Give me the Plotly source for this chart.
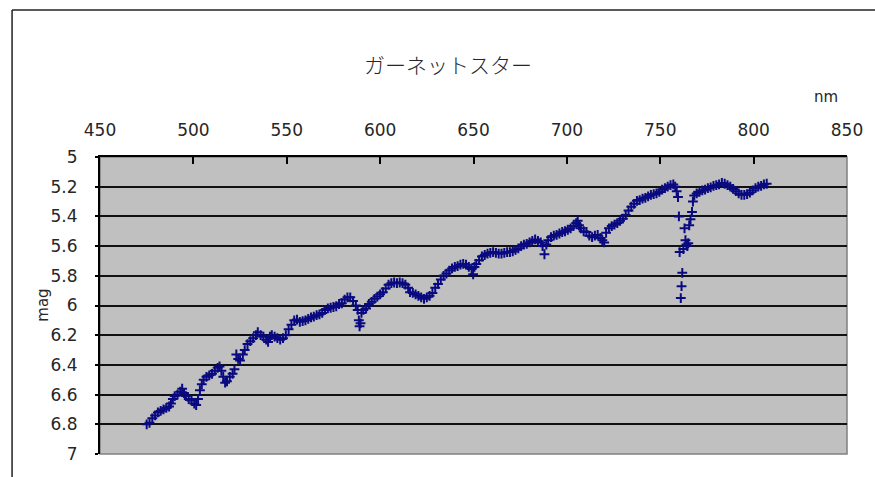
import plotly.graph_objects as go

# ---- data ----
wavelength_nm = [
    475.0, 476.5, 478.0, 479.5, 481.0, 482.5, 484.0, 485.5, 487.0, 488.0,
    489.0, 490.0, 491.5, 493.0, 494.0, 495.0, 496.0, 497.5, 499.0, 500.5,
    501.5, 502.5, 503.5, 504.5, 505.5, 507.0, 508.5, 510.0, 511.5, 513.0,
    514.0, 515.0, 516.0, 517.0, 518.0, 519.5, 521.0, 522.0, 523.0, 524.0,
    525.0, 526.5, 527.5, 529.0, 530.5, 532.0, 533.5, 534.5, 536.0, 537.5,
    539.0, 540.0, 541.0, 542.0, 543.5, 545.0, 546.5, 548.0, 549.5, 551.0,
    552.5, 554.0, 555.5, 557.0, 558.5, 560.0, 561.5, 563.0, 564.5, 566.0,
    567.5, 569.0, 570.5, 572.0, 573.5, 575.0, 576.5, 578.0, 579.5, 581.0,
    582.5, 584.0, 585.5, 587.0, 588.0, 588.6, 589.0, 589.5, 590.0, 591.0,
    592.5, 594.0, 595.5, 597.0, 598.5, 600.0, 601.5, 603.0, 604.5, 606.0,
    607.5, 609.0, 610.5, 612.0, 613.5, 615.0, 616.0, 617.5, 619.0, 620.5,
    622.0, 623.5, 625.0, 626.5, 628.0, 629.5, 631.0, 632.5, 634.0, 635.5,
    637.0, 638.5, 640.0, 641.5, 643.0, 644.5, 646.0, 647.5, 649.0, 649.8,
    650.5, 651.5, 653.0, 654.5, 656.0, 657.5, 659.0, 660.5, 662.0, 663.5,
    665.0, 666.5, 668.0, 669.5, 671.0, 672.5, 674.0, 675.5, 677.0, 678.5,
    680.0, 681.5, 683.0, 684.5, 686.0, 687.0, 688.0, 689.0, 690.0, 691.5,
    693.0, 694.5, 696.0, 697.5, 699.0, 700.5, 702.0, 703.5, 705.0, 705.8,
    706.5, 707.5, 709.0, 710.5, 712.0, 713.5, 715.0, 716.5, 718.0, 719.0,
    720.0, 721.0, 722.5, 724.0, 725.5, 727.0, 728.5, 730.0, 731.5, 733.0,
    734.5, 736.0, 737.5, 739.0, 740.5, 742.0, 743.5, 745.0, 746.5, 748.0,
    749.5, 751.0, 752.5, 754.0, 755.5, 757.0, 758.0, 758.8, 759.5, 760.0,
    760.4, 761.0, 761.4, 761.8, 762.4, 763.0, 763.5, 764.0, 764.5, 765.0,
    765.5, 766.2, 767.0, 767.5, 768.2, 769.5, 771.0, 772.5, 774.0, 775.5,
    777.0, 778.5, 780.0, 781.5, 783.0, 784.5, 786.0, 787.5, 789.0, 790.5,
    792.0, 793.5, 795.0, 796.5, 798.0, 799.5, 801.0, 802.5, 804.0, 805.5,
    807.0,
]
magnitude = [
    6.80, 6.79, 6.76, 6.74, 6.72, 6.71, 6.70, 6.69, 6.68, 6.66,
    6.63, 6.61, 6.60, 6.58, 6.56, 6.59, 6.61, 6.63, 6.64, 6.66,
    6.67, 6.63, 6.57, 6.53, 6.50, 6.48, 6.47, 6.46, 6.44, 6.42,
    6.41, 6.44, 6.48, 6.52, 6.51, 6.48, 6.46, 6.43, 6.33, 6.36,
    6.37, 6.33, 6.30, 6.26, 6.24, 6.22, 6.20, 6.18, 6.20, 6.21,
    6.23, 6.245, 6.21, 6.20, 6.21, 6.22, 6.23, 6.22, 6.20, 6.16,
    6.13, 6.10, 6.095, 6.11, 6.105, 6.10, 6.09, 6.08, 6.075, 6.065,
    6.06, 6.05, 6.03, 6.02, 6.015, 6.01, 6.005, 5.99, 5.985, 5.96,
    5.945, 5.945, 5.97, 6.00, 6.03, 6.10, 6.14, 6.12, 6.05, 6.03,
    6.02, 5.99, 5.975, 5.955, 5.94, 5.925, 5.91, 5.885, 5.86, 5.85,
    5.845, 5.85, 5.845, 5.85, 5.86, 5.88, 5.91, 5.915, 5.925, 5.935,
    5.945, 5.955, 5.945, 5.935, 5.915, 5.88, 5.855, 5.825, 5.80, 5.785,
    5.765, 5.75, 5.74, 5.735, 5.725, 5.72, 5.725, 5.74, 5.755, 5.79,
    5.74, 5.72, 5.695, 5.67, 5.66, 5.65, 5.645, 5.64, 5.645, 5.65,
    5.65, 5.645, 5.64, 5.64, 5.635, 5.625, 5.615, 5.60, 5.59, 5.585,
    5.575, 5.565, 5.555, 5.565, 5.575, 5.60, 5.655, 5.59, 5.56, 5.54,
    5.53, 5.525, 5.515, 5.505, 5.50, 5.49, 5.48, 5.465, 5.445, 5.43,
    5.46, 5.48, 5.50, 5.505, 5.53, 5.54, 5.53, 5.525, 5.545, 5.56,
    5.575, 5.51, 5.48, 5.465, 5.455, 5.445, 5.43, 5.415, 5.39, 5.36,
    5.335, 5.315, 5.295, 5.29, 5.28, 5.275, 5.265, 5.255, 5.25, 5.245,
    5.235, 5.22, 5.21, 5.20, 5.19, 5.185, 5.20, 5.23, 5.27, 5.40,
    5.64, 5.95, 5.87, 5.78, 5.62, 5.48, 5.56, 5.59, 5.60, 5.58,
    5.46, 5.42, 5.37, 5.30, 5.26, 5.245, 5.235, 5.225, 5.22, 5.21,
    5.205, 5.195, 5.19, 5.185, 5.175, 5.18, 5.19, 5.20, 5.215, 5.23,
    5.245, 5.255, 5.255, 5.25, 5.24, 5.225, 5.21, 5.20, 5.195, 5.185,
    5.18,
]

x_ticks = [450, 500, 550, 600, 650, 700, 750, 800, 850]
y_ticks = [5, 5.2, 5.4, 5.6, 5.8, 6, 6.2, 6.4, 6.6, 6.8, 7]
y_tick_text = ["5", "5.2", "5.4", "5.6", "5.8", "6", "6.2", "6.4", "6.6", "6.8", "7"]

title_text = "ガーネットスター"
x_unit = "nm"
y_title = "mag"

# ---- layout constants ----
W, H = 875, 477
L, R, T, B = 100, 19, 157, 23
pw, ph = W - L - R, H - T - B

def px_to_paper_x(px):
    return (px - L) / pw

def py_to_paper_y(py):
    return (H - B - py) / ph

txt_color = "#262626"
num_font = dict(family="DejaVu Sans, Liberation Sans, sans-serif", size=17, color=txt_color)

fig = go.Figure()
fig.add_trace(go.Scatter(
    x=wavelength_nm, y=magnitude, mode="markers",
    marker=dict(symbol="cross-thin", size=7, color="#000080",
                line=dict(color="#0a0a80", width=2)),
    showlegend=False, hoverinfo="x+y",
))

fig.update_layout(
    width=W, height=H,
    margin=dict(l=L, r=R, t=T, b=B),
    paper_bgcolor="white",
    plot_bgcolor="#C0C0C0",
    showlegend=False,
    xaxis=dict(
        range=[450, 850], side="top",
        tickmode="array", tickvals=x_ticks, ticktext=[str(v) for v in x_ticks],
        showgrid=False, zeroline=False,
        showline=True, linecolor="black", linewidth=2,
        ticks="inside", ticklen=7, tickwidth=1.5, tickcolor="black",
        tickfont=num_font, ticklabelstandoff=12,
    ),
    yaxis=dict(
        range=[7, 5],
        tickmode="array", tickvals=y_ticks, ticktext=y_tick_text,
        showgrid=True, gridcolor="#111111", gridwidth=1.5,
        zeroline=False,
        showline=True, linecolor="black", linewidth=2,
        ticks="outside", ticklen=3, tickwidth=1.5, tickcolor="black",
        tickfont=num_font, ticklabelstandoff=14,
    ),
    shapes=[
        # plot-area border (grey right/bottom)
        dict(type="rect", xref="paper", yref="paper", x0=0, x1=1, y0=0, y1=1,
             line=dict(color="#808080", width=1.5), layer="below"),
        # outer chart frame (cropped at right/bottom in the original)
        dict(type="line", xref="paper", yref="paper",
             x0=px_to_paper_x(11), x1=px_to_paper_x(11),
             y0=py_to_paper_y(10), y1=py_to_paper_y(490),
             line=dict(color="#222222", width=1.5)),
        dict(type="line", xref="paper", yref="paper",
             x0=px_to_paper_x(11), x1=px_to_paper_x(890),
             y0=py_to_paper_y(10), y1=py_to_paper_y(10),
             line=dict(color="#222222", width=1.5)),
    ],
    annotations=[
        dict(text=title_text, xref="paper", yref="paper",
             x=px_to_paper_x(452), y=py_to_paper_y(64),
             xanchor="center", yanchor="middle", showarrow=False,
             font=dict(family="Noto Sans CJK JP", size=21, weight=300, color=txt_color)),
        dict(text=x_unit, xref="paper", yref="paper",
             x=px_to_paper_x(835), y=py_to_paper_y(97),
             xanchor="center", yanchor="middle", showarrow=False,
             font=dict(family="DejaVu Sans, sans-serif", size=15, color=txt_color)),
        dict(text=y_title, xref="paper", yref="paper",
             x=px_to_paper_x(42), y=py_to_paper_y(305),
             xanchor="center", yanchor="middle", showarrow=False, textangle=-90,
             font=dict(family="DejaVu Sans, sans-serif", size=15, color=txt_color)),
    ],
)

fig.write_html("out.html")
